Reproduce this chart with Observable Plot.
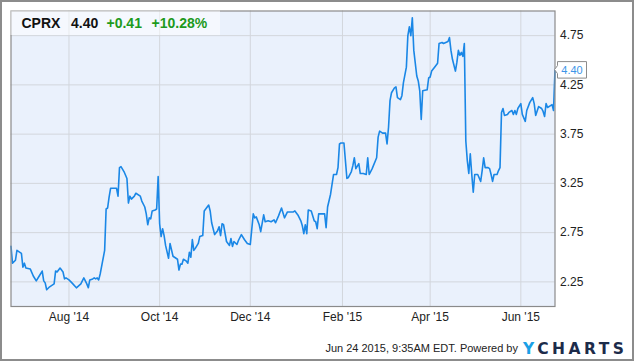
<!DOCTYPE html>
<html><head><meta charset="utf-8">
<script src="https://cdn.jsdelivr.net/npm/d3@7"></script>
<script src="https://cdn.jsdelivr.net/npm/@observablehq/plot@0.6"></script>
<style>body{margin:0;background:#fff;} #chart{position:relative;width:635px;height:362px;}</style>
</head><body><div id="chart"></div>
<script>
const dates = [
"2014-06-23","2014-06-24","2014-06-26","2014-06-27","2014-06-30","2014-07-01","2014-07-02","2014-07-03","2014-07-06","2014-07-08",
"2014-07-10","2014-07-12","2014-07-14","2014-07-15","2014-07-16","2014-07-17","2014-07-19","2014-07-22","2014-07-23","2014-07-24",
"2014-07-26","2014-07-28","2014-07-29","2014-07-30","2014-08-01","2014-08-03","2014-08-06","2014-08-09","2014-08-11","2014-08-13",
"2014-08-14","2014-08-15","2014-08-17","2014-08-18","2014-08-19","2014-08-20","2014-08-21","2014-08-22","2014-08-23","2014-08-25",
"2014-08-26","2014-08-27","2014-08-28","2014-08-29","2014-08-31","2014-09-02","2014-09-03","2014-09-04","2014-09-05","2014-09-07",
"2014-09-09","2014-09-10","2014-09-11","2014-09-12","2014-09-14","2014-09-15","2014-09-18","2014-09-19","2014-09-21","2014-09-22",
"2014-09-23","2014-09-24","2014-09-25","2014-09-26","2014-09-28","2014-09-29","2014-09-30","2014-10-01","2014-10-02","2014-10-03",
"2014-10-04","2014-10-05","2014-10-07","2014-10-08","2014-10-10","2014-10-12","2014-10-13","2014-10-14","2014-10-15","2014-10-16",
"2014-10-17","2014-10-19","2014-10-20","2014-10-21","2014-10-22","2014-10-23","2014-10-24","2014-10-25","2014-10-27","2014-10-28",
"2014-10-30","2014-10-31","2014-11-02","2014-11-03","2014-11-04","2014-11-05","2014-11-07","2014-11-09","2014-11-10","2014-11-11",
"2014-11-12","2014-11-13","2014-11-15","2014-11-16","2014-11-17","2014-11-18","2014-11-19","2014-11-20","2014-11-22","2014-11-23",
"2014-11-25","2014-11-27","2014-11-29","2014-12-01","2014-12-03","2014-12-04","2014-12-05","2014-12-07","2014-12-08","2014-12-10",
"2014-12-11","2014-12-13","2014-12-15","2014-12-17","2014-12-18","2014-12-20","2014-12-22","2014-12-24","2014-12-26","2014-12-30",
"2014-12-31","2015-01-02","2015-01-04","2015-01-05","2015-01-06","2015-01-07","2015-01-08","2015-01-09","2015-01-11","2015-01-13",
"2015-01-14","2015-01-15","2015-01-16","2015-01-19","2015-01-20","2015-01-21","2015-01-22","2015-01-24","2015-01-26","2015-01-28",
"2015-01-29","2015-01-30","2015-01-31","2015-02-02","2015-02-04","2015-02-05","2015-02-07","2015-02-08","2015-02-09","2015-02-10",
"2015-02-12","2015-02-13","2015-02-15","2015-02-17","2015-02-18","2015-02-19","2015-02-21","2015-02-24","2015-02-25","2015-02-26",
"2015-02-28","2015-03-02","2015-03-03","2015-03-04","2015-03-05","2015-03-06","2015-03-08","2015-03-09","2015-03-10","2015-03-12",
"2015-03-13","2015-03-14","2015-03-16","2015-03-17","2015-03-18","2015-03-19","2015-03-20","2015-03-21","2015-03-23","2015-03-24",
"2015-03-25","2015-03-26","2015-03-27","2015-03-30","2015-03-31","2015-04-01","2015-04-02","2015-04-04","2015-04-06","2015-04-07",
"2015-04-09","2015-04-10","2015-04-13","2015-04-14","2015-04-15","2015-04-16","2015-04-18","2015-04-19","2015-04-20","2015-04-21",
"2015-04-22","2015-04-23","2015-04-24","2015-04-25","2015-04-26","2015-04-27","2015-04-28","2015-04-29","2015-04-30","2015-05-01",
"2015-05-03","2015-05-05","2015-05-06","2015-05-07","2015-05-08","2015-05-10","2015-05-11","2015-05-12","2015-05-13","2015-05-14",
"2015-05-16","2015-05-17","2015-05-18","2015-05-19","2015-05-20","2015-05-21","2015-05-23","2015-05-24","2015-05-26","2015-05-27",
"2015-05-28","2015-05-29","2015-05-30","2015-06-01","2015-06-02","2015-06-04","2015-06-05","2015-06-07","2015-06-09","2015-06-10",
"2015-06-11","2015-06-13","2015-06-15","2015-06-16","2015-06-17","2015-06-18","2015-06-19","2015-06-21","2015-06-22","2015-06-23",
"2015-06-24"];
const prices = [
2.61,2.44,2.47,2.57,2.54,2.40,2.44,2.39,2.38,2.31,
2.26,2.31,2.36,2.26,2.24,2.17,2.20,2.23,2.36,2.35,
2.39,2.35,2.28,2.29,2.27,2.24,2.19,2.23,2.29,2.23,
2.19,2.27,2.28,2.29,2.28,2.29,2.27,2.33,2.41,2.57,
2.99,3.00,3.11,3.20,3.20,3.20,3.12,3.41,3.42,3.37,
3.30,3.05,3.12,3.09,3.12,3.15,3.12,3.07,3.01,2.94,
2.83,2.90,2.89,2.97,2.98,2.99,3.32,2.84,2.71,2.79,
2.72,2.62,2.49,2.64,2.51,2.49,2.48,2.37,2.43,2.43,
2.48,2.46,2.44,2.55,2.50,2.68,2.57,2.59,2.64,2.71,
2.72,2.97,3.01,3.03,2.97,2.85,2.73,2.77,2.81,2.72,
2.84,2.83,2.66,2.64,2.62,2.69,2.61,2.66,2.63,2.67,
2.73,2.68,2.64,2.63,2.94,2.90,2.91,2.83,2.76,2.93,
2.86,2.87,2.86,2.88,2.85,2.92,3.00,2.90,2.96,2.96,
2.97,2.93,2.87,2.82,2.74,2.83,2.74,2.98,2.97,2.87,
2.86,2.79,2.94,2.94,2.94,2.80,3.01,3.14,3.34,3.34,
3.41,3.65,3.66,3.66,3.30,3.31,3.37,3.43,3.51,3.40,
3.45,3.35,3.35,3.34,3.51,3.34,3.40,3.51,3.72,3.78,
3.76,3.76,3.65,3.82,4.09,4.17,4.22,4.23,4.12,4.10,
4.14,4.27,4.43,4.75,4.84,4.75,4.93,4.60,4.34,4.29,
4.19,3.90,4.19,4.20,4.32,4.33,4.39,4.43,4.47,4.67,
4.68,4.67,4.69,4.73,4.60,4.51,4.39,4.48,4.60,4.55,
4.58,4.54,4.67,3.68,3.48,3.35,3.55,3.34,3.16,3.34,
3.34,3.27,3.38,3.51,3.41,3.41,3.40,3.34,3.27,3.34,
3.34,3.38,3.41,3.97,4.01,3.94,3.95,3.97,3.99,3.95,
3.99,3.95,4.01,4.06,3.95,3.88,3.99,4.07,4.12,4.06,
3.94,4.03,4.01,3.98,3.93,4.06,4.02,4.04,4.05,3.99,
4.40];
const xTickDates = ["2014-08-01","2014-10-01","2014-12-01","2015-02-01","2015-04-01","2015-06-01"];
const yTickValues = [2.25, 2.75, 3.25, 3.75, 4.25, 4.75];
const xDomain = ["2014-06-23", "2015-06-24"];
const yDomain = [2, 5];
const ticker = "CPRX";
const lastPrice = "4.40";
const change = "+0.41";
const changePct = "+10.28%";
const footerText = "Jun 24 2015, 9:35AM EDT. Powered by";
const logoParts = ["Y", "CHARTS"];

const data = dates.map((d, i) => ({date: new Date(d), price: prices[i]}));
const xTicks = xTickDates.map(d => new Date(d));
const FONT = "'Liberation Sans', Arial, Helvetica, sans-serif";

const plot = Plot.plot({
  width: 635, height: 362,
  marginLeft: 10.5, marginRight: 80.5, marginTop: 10.5, marginBottom: 56,
  style: {background: "transparent", fontFamily: FONT, fontSize: "12px", color: "#222"},
  x: {type: "utc", domain: xDomain.map(d => new Date(d))},
  y: {domain: yDomain},
  marks: [
    Plot.frame({fill: "#eaf1fc"}),
    Plot.gridX(xTicks, {stroke: "#d3d6dc", strokeOpacity: 1}),
    Plot.gridY(yTickValues, {stroke: "#d3d6dc", strokeOpacity: 1}),
    Plot.line(data, {x: "date", y: "price", stroke: "#1a87e6", strokeWidth: 1.6, strokeLinejoin: "round"}),
    Plot.frame({stroke: "#8a8a8a", strokeWidth: 1.2}),
    Plot.axisY(yTickValues, {anchor: "right", tickSize: 0, tickPadding: 5, tickFormat: d3.format(".2f"), label: null, fill: "#222", fontSize: 12}),
    Plot.axisX(xTicks, {anchor: "bottom", tickSize: 0, tickPadding: 6, tickFormat: d3.utcFormat("%b '%y"), label: null, fill: "#222", fontSize: 12})
  ]
});

const svg = d3.select(plot);
const xs = plot.scale("x"), ys = plot.scale("y");

// outer border
svg.append("rect").attr("x", 1).attr("y", 1).attr("width", 632).attr("height", 359)
  .attr("fill", "none").attr("stroke", "#8c8c8c").attr("stroke-width", 2);

// title box
svg.append("rect").attr("x", 10.5).attr("y", 10.5).attr("width", 209.5).attr("height", 24.5)
  .attr("fill", "#ffffff").attr("fill-opacity", 0.5);
const tg = svg.append("g").attr("font-family", FONT).attr("font-size", 14).attr("font-weight", "bold")
  .attr("text-anchor", "start");
tg.append("text").attr("x", 21.5).attr("y", 28.3).attr("fill", "#111").text(ticker);
tg.append("text").attr("x", 71).attr("y", 28.3).attr("fill", "#111").text(lastPrice);
tg.append("text").attr("x", 106.5).attr("y", 28.3).attr("fill", "#1d9a1d").text(change);
tg.append("text").attr("x", 151.5).attr("y", 28.3).attr("fill", "#1d9a1d").text(changePct);

// last value callout
const lastPt = data[data.length - 1];
const cx0 = xs.apply(lastPt.date), cy0 = ys.apply(lastPt.price);
const boxX = cx0 + 3, boxW = 29, boxTop = cy0 - 8, boxBot = cy0 + 8.5;
svg.append("path")
  .attr("d", `M${boxX},${boxTop}H${boxX + boxW}V${boxBot}H${boxX}V${cy0 + 4}L${cx0},${cy0}L${boxX},${cy0 - 4}Z`)
  .attr("fill", "#fff").attr("stroke", "#8c8c8c").attr("stroke-width", 1);
svg.append("text").attr("x", boxX + boxW / 2).attr("y", cy0 + 4).attr("text-anchor", "middle")
  .attr("font-family", FONT).attr("font-size", 11).attr("fill", "#3d95e8").text(lastPt.price.toFixed(2));

// footer
svg.append("text").attr("x", 518).attr("y", 352).attr("text-anchor", "end")
  .attr("font-family", FONT).attr("font-size", 11).attr("fill", "#222").text(footerText);
const logo = svg.append("text").attr("x", 523).attr("y", 354).attr("text-anchor", "start")
  .attr("font-family", "'DejaVu Sans', sans-serif").attr("font-size", 15.5).attr("font-weight", "bold")
  .attr("textLength", 101).attr("lengthAdjust", "spacing");
logo.append("tspan").attr("fill", "#1aa0e6").text(logoParts[0]);
logo.append("tspan").attr("fill", "#1c2b4a").text(logoParts[1]);

document.getElementById("chart").appendChild(plot);
</script>
</body></html>
